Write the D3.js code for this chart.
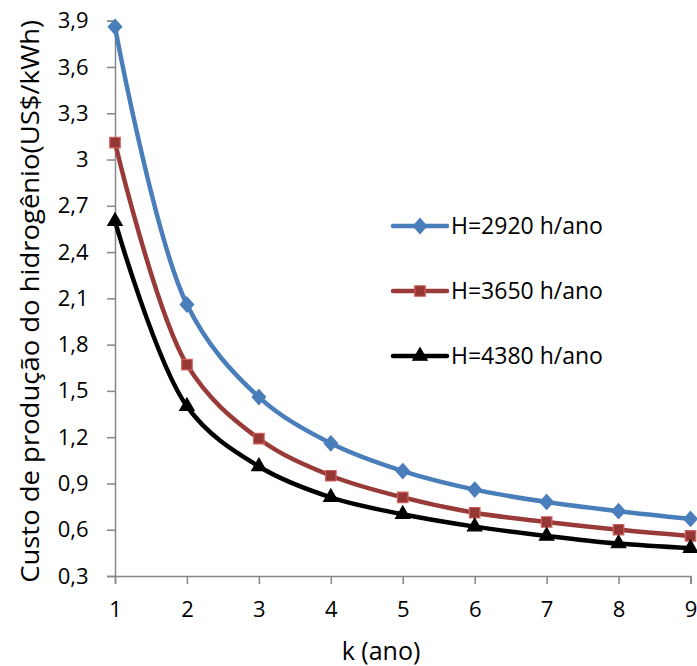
<!DOCTYPE html>
<html>
<head>
<meta charset="utf-8">
<script src="https://cdn.jsdelivr.net/npm/d3@7"></script>
<style>
  html, body { margin: 0; padding: 0; background: #fff; }
  svg { display: block; font-family: "Open Sans", Lato, sans-serif; }
</style>
</head>
<body>
<svg id="chart" width="697" height="666"></svg>
<script>
// Custo de produção do hidrogênio por ano de retorno k
const kValues = [1, 2, 3, 4, 5, 6, 7, 8, 9];
const seriesNames = ["H=2920 h/ano", "H=3650 h/ano", "H=4380 h/ano"];
const cost2920 = [3.86, 2.06, 1.46, 1.16, 0.98, 0.86, 0.78, 0.72, 0.67];
const cost3650 = [3.11, 1.67, 1.19, 0.95, 0.81, 0.71, 0.65, 0.60, 0.56];
const cost4380 = [2.60, 1.40, 1.01, 0.81, 0.70, 0.62, 0.56, 0.51, 0.48];
const yTicks = [0.3, 0.6, 0.9, 1.2, 1.5, 1.8, 2.1, 2.4, 2.7, 3.0, 3.3, 3.6, 3.9];
const xTicks = [1, 2, 3, 4, 5, 6, 7, 8, 9];

const svg = d3.select("#chart");
const W = 697, H = 666;
const margin = { left: 115, right: 6.5, top: 20.7, bottom: 90 };

const x = d3.scaleLinear().domain([1, 9]).range([margin.left, W - margin.right]);
const y = d3.scaleLinear().domain([0.3, 3.9]).range([H - margin.bottom, margin.top]);

const fmt = v => d3.format("~g")(+v.toFixed(1)).replace(".", ",");

// Axes
const axisColor = "#868686";
const yAxis = svg.append("g")
  .attr("transform", `translate(${x(1)},0)`)
  .call(d3.axisLeft(y).tickValues(yTicks).tickSize(8).tickPadding(18.5).tickFormat(fmt));
const xAxis = svg.append("g")
  .attr("transform", `translate(0,${y(0.3)})`)
  .call(d3.axisBottom(x).tickValues(xTicks).tickSize(8).tickPadding(17.5).tickFormat(d3.format("d")));

[yAxis, xAxis].forEach(g => {
  g.select(".domain").attr("stroke", axisColor).attr("stroke-width", 1.5);
  g.selectAll(".tick line").attr("stroke", axisColor).attr("stroke-width", 1.5);
  g.selectAll(".tick text").attr("fill", "#000").style("font-size", "22px")
    .style("font-family", "'Open Sans', Lato, sans-serif");
});

// Axis titles
svg.append("text")
  .attr("x", 381)
  .attr("y", 660)
  .attr("text-anchor", "middle")
  .style("font-size", "25px")
  .text("k (ano)");

svg.append("text")
  .attr("transform", `translate(39,${(y(0.3) + y(3.9)) / 2 + 3}) rotate(-90)`)
  .attr("text-anchor", "middle")
  .attr("textLength", 563)
  .attr("lengthAdjust", "spacingAndGlyphs")
  .style("font-size", "25px")
  .text("Custo de produção do hidrogênio(US$/kWh)");

// Series
const series = [
  { name: seriesNames[0], values: cost2920, line: "#4A7EBB", fill: "#4A7EBB", stroke: "#4A7EBB", symbol: d3.symbolDiamond, size: 60 },
  { name: seriesNames[1], values: cost3650, line: "#983A37", fill: "#953735", stroke: "#D0605C", symbol: d3.symbolSquare, size: 110 },
  { name: seriesNames[2], values: cost4380, line: "#000000", fill: "#000000", stroke: "#000000", symbol: d3.symbolTriangle, size: 90 }
];

const line = d3.line()
  .x((d, i) => x(kValues[i]))
  .y(d => y(d))
  .curve(d3.curveCatmullRom.alpha(0.5));

// Widen the diamond so it reads as a square rotated 45°
const markerTransform = s => s.symbol === d3.symbolDiamond ? " scale(1.55,1)" : "";

series.forEach(s => {
  svg.append("path")
    .attr("d", line(s.values))
    .attr("fill", "none")
    .attr("stroke", s.line)
    .attr("stroke-width", 4.5)
    .attr("stroke-linejoin", "round")
    .attr("stroke-linecap", "round");
  svg.append("g").selectAll("path")
    .data(s.values)
    .join("path")
    .attr("transform", (d, i) => `translate(${x(kValues[i])},${y(d)})${markerTransform(s)}`)
    .attr("d", d3.symbol().type(s.symbol).size(s.size))
    .attr("fill", s.fill)
    .attr("stroke", s.stroke)
    .attr("stroke-width", 1.2);
});

// Legend
const legendRows = [226, 291, 356];
series.forEach((s, i) => {
  const g = svg.append("g").attr("transform", `translate(0,${legendRows[i]})`);
  g.append("line")
    .attr("x1", 393).attr("x2", 447)
    .attr("stroke", s.line).attr("stroke-width", 4.5).attr("stroke-linecap", "round");
  g.append("path")
    .attr("transform", `translate(420,0)${markerTransform(s)}`)
    .attr("d", d3.symbol().type(s.symbol).size(s.size))
    .attr("fill", s.fill).attr("stroke", s.stroke).attr("stroke-width", 1.2);
  g.append("text")
    .attr("x", 451).attr("y", 8.3)
    .style("font-size", "23px")
    .text(s.name);
});
</script>
</body>
</html>
